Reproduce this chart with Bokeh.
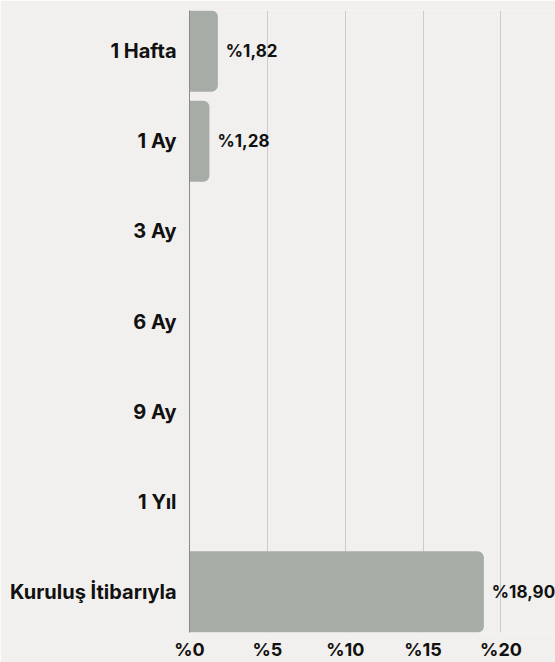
from bokeh.plotting import figure
from bokeh.models import Range1d, FixedTicker, ColumnDataSource
from bokeh.core.properties import value
from bokeh.embed import file_html
from bokeh.resources import INLINE

categories = ["1 Hafta", "1 Ay", "3 Ay", "6 Ay", "9 Ay", "1 Yıl", "Kuruluş İtibarıyla"]
returns = [1.82, 1.28, None, None, None, None, 18.90]
x_ticks = [0, 5, 10, 15, 20]
x_tick_labels = ["%0", "%5", "%10", "%15", "%20"]

BG = "#f1f0ee"
BAR = "#a8aca6"
FONT = "Inter"

idx = list(range(len(categories)))
bar_y = [i for i, v in zip(idx, returns) if v is not None]
bar_v = [v for v in returns if v is not None]
lbl = ["%" + f"{v:.2f}".replace(".", ",") for v in bar_v]
src = ColumnDataSource(dict(y=bar_y, v=bar_v, lbl=lbl))

p = figure(width=555, height=662, output_backend="svg", toolbar_location=None,
           x_range=Range1d(0, 23.5), y_range=Range1d(len(categories) - 0.55, -0.45),
           min_border_left=189, min_border_right=0, min_border_top=10, min_border_bottom=29)
p.background_fill_color = BG
p.border_fill_color = BG
p.outline_line_color = None

p.hbar(y="y", left=0, right="v", height=0.9, source=src, fill_color=BAR,
       line_color=None, border_radius=(0, 6, 6, 0))
p.text(x="v", y="y", text="lbl", source=src, x_offset=8, text_baseline="middle",
       text_align="left", text_font=value(FONT), text_font_style="bold",
       text_font_size="17px", text_color="#111111")

p.xaxis.ticker = FixedTicker(ticks=x_ticks)
p.xaxis.major_label_overrides = {t: l for t, l in zip(x_ticks, x_tick_labels)}
p.xaxis.axis_line_color = None
p.xaxis.major_tick_line_color = None
p.xaxis.minor_tick_line_color = None
p.xaxis.major_tick_out = 0
p.xaxis.major_tick_in = 0
p.xaxis.major_label_standoff = 6
p.xaxis.major_label_text_line_height = 0.85
p.xaxis.major_label_text_font = FONT
p.xaxis.major_label_text_font_style = "bold"
p.xaxis.major_label_text_font_size = "18px"
p.xaxis.major_label_text_color = "#111111"

p.yaxis.ticker = FixedTicker(ticks=idx)
p.yaxis.major_label_overrides = {i: c for i, c in zip(idx, categories)}
p.yaxis.axis_line_color = "#8a8a8a"
p.yaxis.major_tick_line_color = None
p.yaxis.minor_tick_line_color = None
p.yaxis.major_label_standoff = 7
p.yaxis.major_label_text_font = FONT
p.yaxis.major_label_text_font_style = "bold"
p.yaxis.major_label_text_font_size = "20px"
p.yaxis.major_label_text_color = "#111111"

p.xgrid.ticker = FixedTicker(ticks=x_ticks[1:])
p.xgrid.grid_line_color = "#cbcbcb"
p.ygrid.grid_line_color = None

html = file_html(p, INLINE)
html = html.replace("<body>", "<body style=\"background-color:%s\">" % BG, 1)
open("out.html", "w").write(html)
